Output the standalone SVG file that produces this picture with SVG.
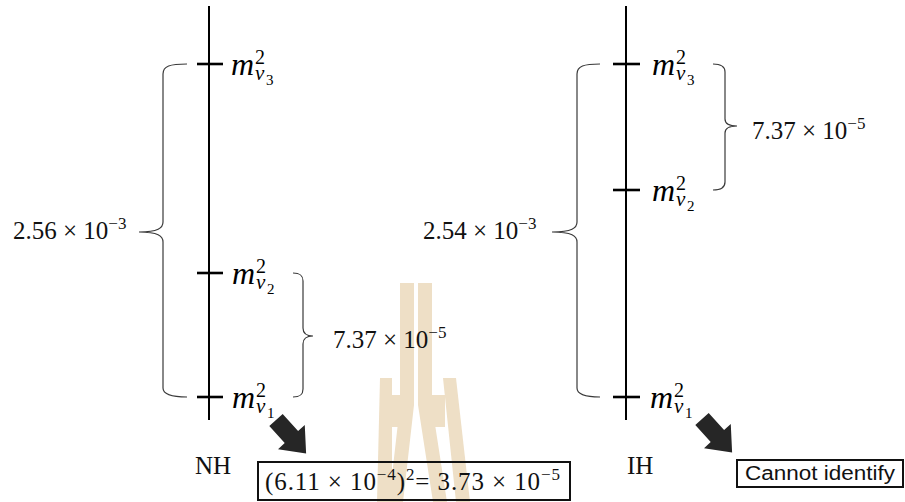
<svg xmlns="http://www.w3.org/2000/svg" width="905" height="502" viewBox="0 0 905 502">
<style>
.axis{stroke:#000;stroke-width:2;fill:none}
.tick{stroke:#000;stroke-width:2.6;fill:none}
.brace{stroke:#3a3a3a;stroke-width:1.2;fill:none}
.wm{fill:#EEDFC6}
.ml{font-family:"Liberation Serif",serif;fill:#000}
.mi{font-style:italic;font-size:32px}
.sup{font-style:normal;font-size:20px}
.subv{font-style:italic;font-size:21px}
.ss{font-style:normal;font-size:15px}
.num{font-family:"Liberation Serif",serif;font-size:25px;fill:#111}
.lab{font-family:"Liberation Serif",serif;font-size:25px;fill:#111}
.box{fill:none;stroke:#111;stroke-width:2}
.sans{font-family:"Liberation Sans",sans-serif;font-size:20px;fill:#111}
.arrow{fill:#262626}
</style>
<defs>
<polygon id="blk" points="0,-9 23,-9 23,-18 45,0 23,18 23,9 0,9"/>
</defs>

<g id="watermark">
<path class="wm" d="M400,283 H414 V405 L403,502 H389 L400,405 Z"/>
<path class="wm" d="M418,283 H432 V405 L447,502 H433 L418,405 Z"/>
<path class="wm" d="M380,378 H392 V502 H377 Z"/>
<path class="wm" d="M443,378 H456 L470,502 H456 Z"/>
<rect class="wm" x="390" y="395" width="12" height="32"/>
<rect class="wm" x="430" y="395" width="15" height="32"/>
<rect x="414" y="283" width="4" height="40" fill="#fff"/>
</g>

<g id="nh-axis">
<line class="axis" x1="209" y1="6" x2="209" y2="420"/>
<line class="tick" x1="197" y1="64" x2="223" y2="64"/>
<line class="tick" x1="197" y1="273" x2="223" y2="273"/>
<line class="tick" x1="197" y1="397" x2="223" y2="397"/>
</g>

<g id="nh-m3"><text class="ml"><tspan class="mi" x="231" y="75">m</tspan><tspan class="sup" x="255" y="64">2</tspan><tspan class="subv" x="255" y="80">v</tspan><tspan class="ss" x="266" y="85">3</tspan></text></g>
<g id="nh-m2"><text class="ml"><tspan class="mi" x="232" y="284">m</tspan><tspan class="sup" x="256" y="273">2</tspan><tspan class="subv" x="256" y="289">v</tspan><tspan class="ss" x="267" y="294">2</tspan></text></g>
<g id="nh-m1"><text class="ml"><tspan class="mi" x="232" y="408">m</tspan><tspan class="sup" x="256" y="397">2</tspan><tspan class="subv" x="256" y="413">v</tspan><tspan class="ss" x="267" y="418">1</tspan></text></g>

<g id="ih-axis">
<line class="axis" x1="626" y1="6" x2="626" y2="420"/>
<line class="tick" x1="613" y1="64" x2="640" y2="64"/>
<line class="tick" x1="613" y1="190" x2="640" y2="190"/>
<line class="tick" x1="613" y1="397" x2="640" y2="397"/>
</g>

<g id="ih-m3"><text class="ml"><tspan class="mi" x="652" y="75">m</tspan><tspan class="sup" x="676" y="64">2</tspan><tspan class="subv" x="676" y="80">v</tspan><tspan class="ss" x="687" y="85">3</tspan></text></g>
<g id="ih-m2"><text class="ml"><tspan class="mi" x="652" y="201">m</tspan><tspan class="sup" x="676" y="190">2</tspan><tspan class="subv" x="676" y="206">v</tspan><tspan class="ss" x="687" y="211">2</tspan></text></g>
<g id="ih-m1"><text class="ml"><tspan class="mi" x="650" y="408">m</tspan><tspan class="sup" x="674" y="397">2</tspan><tspan class="subv" x="674" y="413">v</tspan><tspan class="ss" x="685" y="418">1</tspan></text></g>

<g id="nh-big-label"><text class="num" x="13" y="239">2.56 × 10<tspan font-size="17" dy="-10">−3</tspan></text></g>
<g id="nh-small-label"><text class="num" x="333" y="348">7.37 × 10<tspan font-size="17" dy="-10">−5</tspan></text></g>
<g id="ih-big-label"><text class="num" x="423" y="239">2.54 × 10<tspan font-size="17" dy="-10">−3</tspan></text></g>
<g id="ih-small-label"><text class="num" x="752" y="139">7.37 × 10<tspan font-size="17" dy="-10">−5</tspan></text></g>

<g id="nh-name"><text class="lab" x="195" y="474">NH</text></g>
<g id="ih-name"><text class="lab" x="627" y="474">IH</text></g>

<g id="nh-result">
<rect class="box" x="258" y="462" width="312" height="38"/>
<text class="num" x="265" y="490" textLength="295" lengthAdjust="spacing">(6.11 × 10<tspan font-size="17" dy="-10">−4</tspan><tspan dy="10">)</tspan><tspan font-size="17" dy="-10">2</tspan><tspan dy="10">= 3.73 × 10</tspan><tspan font-size="17" dy="-10">−5</tspan></text>
</g>
<g id="ih-result">
<rect class="box" x="737" y="460" width="166" height="27"/>
<text class="sans" x="745" y="480" textLength="150" lengthAdjust="spacingAndGlyphs">Cannot identify</text>
</g>

<g id="connectors">
<path class="brace" d="M187,64 C170,64 163,66 163,74 L163,222 C163,228 158,232 139,232 C158,232 163,236 163,242 L163,388 C163,394 170,397 187,397"/>
<path class="brace" d="M293,273 C300,273 303,275 303,281 L303,328 C303,333 306,336 313,336 C306,336 303,339 303,344 L303,389 C303,395 300,397 293,397"/>
<path class="brace" d="M600,64 C584,64 577,66 577,74 L577,222 C577,228 572,232 552,232 C572,232 577,236 577,242 L577,388 C577,394 584,397 600,397"/>
<path class="brace" d="M713,64 C720,64 725,66 725,72 L725,119 C725,123 729,126 737,126 C729,126 725,129 725,133 L725,182 C725,188 720,190 713,190"/>
<use href="#blk" class="arrow" transform="translate(276,420) rotate(48)"/>
<use href="#blk" class="arrow" transform="translate(702,419) rotate(48)"/>
</g>
</svg>
